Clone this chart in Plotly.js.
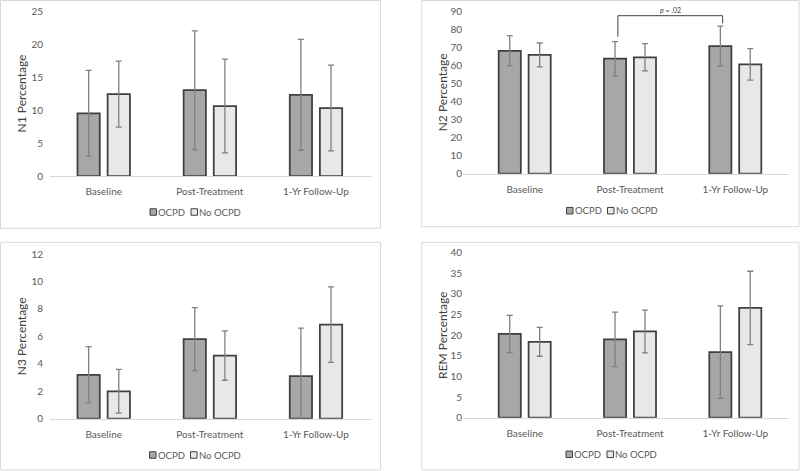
<!DOCTYPE html>
<html>
<head>
<meta charset="utf-8">
<script src="https://cdn.plot.ly/plotly-3.0.1.min.js"></script>
<style>html,body{margin:0;padding:0;background:#fff;}#chart{width:800px;height:471px;}</style>
</head>
<body>
<div id="chart"></div>
<script>
// ---- data ----
const categories = ['Baseline', 'Post-Treatment', '1-Yr Follow-Up'];
const seriesNames = ['OCPD', 'No OCPD'];
const yTitles = ['N1 Percentage', 'N2 Percentage', 'N3 Percentage', 'REM Percentage'];

const n1Ocpd = [9.5, 13.0, 12.3];
const n1OcpdErr = [6.5, 9.0, 8.4];
const n1NoOcpd = [12.4, 10.6, 10.3];
const n1NoOcpdErr = [5.0, 7.1, 6.5];

const n2Ocpd = [68.0, 63.6, 70.6];
const n2OcpdErr = [8.4, 9.5, 11.0];
const n2NoOcpd = [65.7, 64.4, 60.5];
const n2NoOcpdErr = [6.6, 7.5, 8.7];

const n3Ocpd = [3.2, 5.8, 3.1];
const n3OcpdErr = [2.05, 2.3, 3.5];
const n3NoOcpd = [2.0, 4.6, 6.85];
const n3NoOcpdErr = [1.6, 1.8, 2.75];

const remOcpd = [20.3, 19.0, 15.9];
const remOcpdErr = [4.5, 6.6, 11.2];
const remNoOcpd = [18.4, 20.9, 26.6];
const remNoOcpdErr = [3.5, 5.2, 8.9];

const yMax = [25, 90, 12, 40];
const yStep = [5, 10, 2, 5];
const sigLabel = '<i>p</i> = .02';

// ---- styling ----
const FONT = 'Lato, "Liberation Sans", sans-serif';
const TICK = '#595959';
const COL_OCPD = '#a9a6a9';
const COL_NO = '#e8e8e8';
const OUTLINE = '#3f3f3f';
const ERRC = '#808080';
const seriesColors = [COL_OCPD, COL_NO];

const panels = [
  {ocpd: n1Ocpd, oErr: n1OcpdErr, no: n1NoOcpd, nErr: n1NoOcpdErr},
  {ocpd: n2Ocpd, oErr: n2OcpdErr, no: n2NoOcpd, nErr: n2NoOcpdErr},
  {ocpd: n3Ocpd, oErr: n3OcpdErr, no: n3NoOcpd, nErr: n3NoOcpdErr},
  {ocpd: remOcpd, oErr: remOcpdErr, no: remNoOcpd, nErr: remNoOcpdErr}
];

const H = 471, W = 800;
const geo = [
  {xd: [50, 372], yd: [11, 176], xr: [-0.506, 2.528], stand: 6, legX: 150, legY: 212, box: [0.5, 0.5, 380.5, 228.3], tstand: 2},
  {xd: [463, 789], yd: [11, 173.7], xr: [-0.586, 2.51], stand: 0, legX: 566.5, legY: 210.7, box: [421.7, 0.5, 799, 226.7], tstand: 0},
  {xd: [50, 372], yd: [254, 418.7], xr: [-0.506, 2.528], stand: 6, legX: 149.5, legY: 455, box: [0.5, 242.3, 380.5, 470], tstand: 2},
  {xd: [463, 789], yd: [252.7, 417.7], xr: [-0.586, 2.51], stand: 0, legX: 566, legY: 454.3, box: [421.7, 242.3, 799, 470], tstand: 0}
];

const traces = [];
const layout = {
  width: W, height: H,
  margin: {l: 0, r: 0, t: 0, b: 0},
  paper_bgcolor: '#fff', plot_bgcolor: '#fff',
  font: {family: FONT, size: 10, color: TICK},
  barmode: 'group',
  bargap: 0.432,
  bargroupgap: 0.26,
  showlegend: false,
  shapes: [],
  annotations: []
};

panels.forEach((p, i) => {
  const sfx = i === 0 ? '' : String(i + 1);
  const xa = 'x' + sfx, ya = 'y' + sfx;
  const g = geo[i];
  const mk = (vals, errs, color, name) => ({
    type: 'bar', x: categories, y: vals, name: name,
    xaxis: xa, yaxis: ya, showlegend: false,
    marker: {color: color, line: {color: OUTLINE, width: 1.75}},
    error_y: {type: 'data', array: errs, visible: true, color: ERRC, thickness: 1.3, width: 3},
    hoverinfo: 'x+y'
  });
  traces.push(mk(p.ocpd, p.oErr, COL_OCPD, seriesNames[0]));
  traces.push(mk(p.no, p.nErr, COL_NO, seriesNames[1]));

  layout['xaxis' + sfx] = {
    domain: [g.xd[0] / W, g.xd[1] / W],
    anchor: ya, type: 'category', range: g.xr,
    showgrid: false, zeroline: false, showline: true, linecolor: '#d9d9d9', linewidth: 1,
    ticks: '', ticklabelstandoff: 6,
    tickfont: {family: FONT, size: 10, color: TICK}, fixedrange: true
  };
  layout['yaxis' + sfx] = {
    domain: [1 - g.yd[1] / H, 1 - g.yd[0] / H],
    anchor: xa, range: [0, yMax[i]], dtick: yStep[i], tick0: 0,
    showgrid: false, zeroline: false, showline: false, ticks: '',
    ticklabelstandoff: g.stand,
    tickfont: {family: FONT, size: 10, color: TICK}, fixedrange: true,
    title: {text: yTitles[i], font: {family: FONT, size: 12, color: '#404040'}, standoff: g.tstand}
  };

  // compact Excel-style legend: swatch + label for each series
  const legOffsets = [0, 41];
  seriesNames.forEach((n, k) => {
    const lx = g.legX + legOffsets[k];
    const s = 6.5;
    layout.shapes.push({
      type: 'rect', xref: 'paper', yref: 'paper',
      x0: lx / W, x1: (lx + s) / W, y0: 1 - (g.legY + s / 2) / H, y1: 1 - (g.legY - s / 2) / H,
      fillcolor: seriesColors[k], line: {color: OUTLINE, width: 1}
    });
    layout.annotations.push({
      xref: 'paper', yref: 'paper', x: (lx + s + 0.5) / W, y: 1 - g.legY / H,
      xanchor: 'left', yanchor: 'middle', showarrow: false, borderpad: 0,
      text: n, font: {family: FONT, size: 9.5, color: TICK}
    });
  });

  layout.shapes.push({
    type: 'rect', xref: 'paper', yref: 'paper', layer: 'below',
    x0: g.box[0] / W, x1: g.box[2] / W, y0: 1 - g.box[3] / H, y1: 1 - g.box[1] / H,
    line: {color: '#d9d9d9', width: 1}, fillcolor: 'rgba(0,0,0,0)'
  });
});

// significance bracket (N2: Post-Treatment OCPD vs 1-Yr Follow-Up OCPD)
const brL = 0.885, brR = 1.88, brTop = 87.4, legL = 75.8, legR = 83.2;
layout.shapes.push({
  type: 'path', xref: 'x2', yref: 'y2',
  path: `M ${brL},${legL} L ${brL},${brTop} L ${brR},${brTop} L ${brR},${legR}`,
  line: {color: '#404040', width: 1}
});
layout.annotations.push({
  xref: 'x2', yref: 'y2', x: (brL + brR) / 2, y: brTop, yanchor: 'bottom', yshift: 0,
  text: sigLabel, showarrow: false, font: {family: FONT, size: 7, color: '#404040'}
});

Plotly.newPlot('chart', traces, layout, {displayModeBar: false, staticPlot: true});
</script>
</body>
</html>
